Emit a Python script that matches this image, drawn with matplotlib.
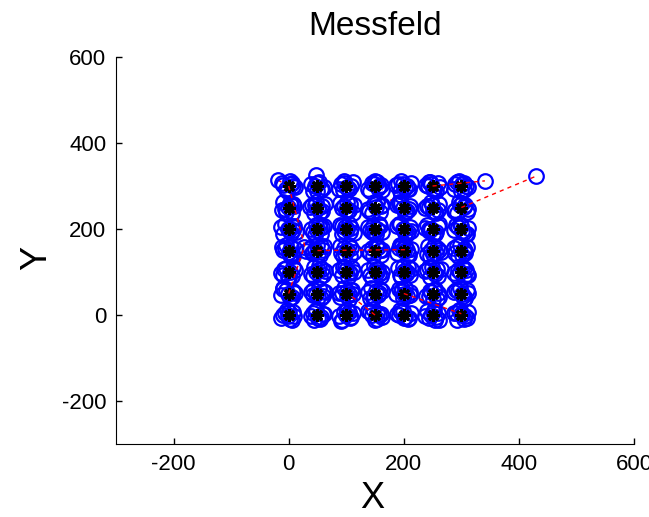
import numpy as np
import matplotlib
matplotlib.use("Agg")
import matplotlib.pyplot as plt

plt.rcParams["axes.unicode_minus"] = False

# Messfeld: true grid positions (black) and measured positions (blue circles)
grid_x = [0, 50, 100, 150, 200, 250, 300]
grid_y = [0, 50, 100, 150, 200, 250, 300]

# measurement error per grid point (row by row, y = 0 ... 300, x = 0 ... 300)
err_x = [
    [-14, -6, 3, 8, -3, 10, 5, -9, 1, -2], [-8, 5, 12, -2, 7, -11, 1, -4, 9, -6],
    [-12, -4, 6, 11, 2, -7, -1, 8, -9, 4], [-9, 4, 10, -3, 13, -12, 0, -6, 7, 3],
    [-11, -2, 7, 12, 3, -6, 9, -8, -4, 1], [-6, 9, 3, -13, 11, 0, -3, 6, -9, 4],
    [-10, 5, 12, -3, 7, -7, 1, -4, 9, -12],
    [-13, -5, 8, 2, 11, -9, 5, -2, -10, 7], [-7, 10, 3, -12, 6, 13, -3, 1, 9, -8],
    [-10, 2, 12, -4, 8, -13, 5, -7, 1, 10], [-12, -3, 9, 5, 13, -7, -1, 2, -9, 7],
    [-8, 6, 11, -2, 3, -13, 10, -5, 1, -3], [-11, 4, 12, -5, 9, 1, -6, 2, 8, -3],
    [-9, 7, -2, 12, 3, -13, 4, -6, 1, 9],
    [-14, -4, 6, 11, 1, -8, 3, -10, 8, -2], [-6, 9, 13, -11, 2, 5, -3, 1, -8, 8],
    [-12, 3, 10, -5, 7, 14, -8, 0, 5, -2], [-9, 6, -2, 12, 10, -13, 3, -6, 1, 7],
    [-10, 4, 12, -4, 8, 1, -7, 6, -1, 10], [-13, -1, 9, 5, 14, -7, 3, -5, -9, 7],
    [-8, 8, 2, -12, 11, 5, -3, 4, -6, 9],
    [-12, 6, 11, -4, 2, -9, 0, -7, 8, 4], [-7, 12, -13, 4, 9, -1, 1, -5, 7, -9],
    [-11, -2, 8, 13, 4, -6, 2, -9, 6, -3], [-13, 5, 10, -6, 1, 12, -3, 8, -9, 4],
    [-9, 7, 12, -3, -12, 3, 0, -6, 9, -1], [-10, 3, 11, -5, 8, 14, -2, 6, -8, 1],
    [-12, 6, -3, 10, 2, -8, 7, -5, 4, -11],
    [-13, 4, 10, -6, 1, 12, -2, 7, -9, 5], [-8, 11, 3, -12, 7, -2, 0, -5, 8, 4],
    [-11, -3, 9, 14, 5, -7, 1, -8, 6, -2], [-9, 7, 12, -4, 2, -13, 4, -6, 9, -1],
    [-12, 3, 10, -6, 13, 6, -1, -9, 7, 1], [-7, 9, -13, 4, 11, -2, 1, -6, 6, -9],
    [-10, 5, 12, -3, 8, -12, 2, -6, 9, -1],
    [-12, 2, 10, -5, 7, -9, -2, 5, -7, 4], [-9, 8, 13, -2, 4, -13, 1, -6, 8, -4],
    [-11, 5, -4, 11, 14, 1, -8, 3, 6, -1], [-13, -1, 8, 12, 4, 45, -5, 1, 10, -10],
    [-8, 6, 11, -5, 2, -12, 9, -2, -9, 4], [-10, 4, 12, -3, 9, -13, 1, -7, 6, -1],
    [-12, 7, -4, 11, 2, -8, 4, -11, 9, -3],
    [-19, -5, 6, 11, 2, -10, 8, -3, -12, 4], [-3, 8, -11, 12, 3, -7, 0, -5, 6, -1],
    [-9, 5, 11, -3, 2, -12, -6, 8, 1, -3], [-12, 4, 10, -5, 13, 0, 7, -8, -2, 5],
    [-10, 7, 12, -4, 2, -13, -6, 5, 9, -2], [-11, 3, 9, -4, 13, -7, 6, -8, 1, -2],
    [-12, 5, -4, 11, 2, -8, 8, -1, -11, 5],
]
err_y = [
    [-7, 4, -9, 6, 12, -3, -12, 0, 8, -2], [5, -10, 3, 11, -4, -2, -6, 9, 2, -12],
    [-3, 8, -8, 4, 12, -11, 1, -5, -13, 6], [6, -9, 2, 13, -5, 10, -11, 1, -1, 5],
    [2, 10, -10, 5, -4, 12, -6, -1, 7, -8], [-8, 4, 12, -2, -11, 7, 1, -4, 9, -12],
    [4, -9, 7, 11, -2, -12, 0, 12, -6, 4],
    [-4, 9, 5, -10, 2, 12, -8, -1, 10, 4], [8, -6, 12, 3, -11, 4, 0, -9, 5, -3],
    [-9, 6, -2, 12, 9, 1, -12, 1, -5, 7], [3, -11, 10, -4, 6, 12, -8, 6, -11, 2],
    [10, -5, 4, -10, 13, 0, -3, 6, -1, 10], [-6, 11, -8, 5, 2, -12, -5, 9, -12, 3],
    [7, -10, 12, 1, -6, 4, -12, 6, -1, 9],
    [-2, 10, -9, 4, -12, 7, 1, -6, 12, -11], [11, -8, 3, -4, 13, -11, -1, 5, -9, 7],
    [5, -11, 9, 12, -3, 0, -7, 4, -1, 12], [-7, 8, 13, -1, -10, 5, 1, -13, 6, -4],
    [9, -4, 6, -12, 12, 2, -8, 1, 11, -6], [3, 12, -9, -5, 8, 11, -1, -12, 5, 8],
    [-10, 5, 12, -2, -7, 9, 1, -12, 4, -5],
    [8, -7, 3, 12, -11, 1, -4, 6, -12, 9], [-4, 10, 6, -11, 2, 13, -8, 1, 11, -5],
    [11, -9, 5, -3, 12, -12, 1, -6, -12, 5], [-2, 9, -10, 6, 13, 2, -12, 1, -5, 9],
    [6, -8, 4, 12, -5, 10, -1, 12, -11, 4], [-9, 11, 2, -12, 7, -3, 1, -6, 10, -8],
    [5, -6, 12, 8, -11, 11, -2, -12, 3, -6],
    [4, -10, 8, 12, -3, -8, 1, -3, -12, 6], [-7, 6, 12, 1, -11, 10, -2, -13, 5, 3],
    [10, -5, 3, -9, 12, -12, -1, 7, -7, 5], [-3, 11, -8, 6, -12, 4, 1, -6, 8, -9],
    [7, -9, 5, 12, -4, -11, -1, 12, -6, 1], [-5, 8, 3, -11, 12, 1, -12, 1, -6, 9],
    [9, -7, 2, 12, -11, -2, -5, 4, -12, 7],
    [-6, 11, 4, -10, 8, 13, 1, -12, -4, 6], [5, -8, 9, 12, -11, 1, -2, -12, 4, 7],
    [10, -6, 3, -12, 6, 12, -1, -8, 9, -5], [-4, 9, -10, 5, 12, 28, -12, 1, 4, -8],
    [12, -7, 4, 10, -12, 6, -3, -1, 8, -7], [3, -11, 8, 12, -5, -2, -7, 1, -12, 5],
    [-8, 5, 12, -3, 10, -12, 1, -5, -10, 6],
    [14, -8, 6, -3, 12, 3, -1, -11, 8, 5], [26, -6, 5, -2, 10, -11, -12, 1, -6, 7],
    [4, -8, 9, 11, -3, -6, -10, 1, -5, 6], [-7, 10, 3, 7, -10, 12, 0, -12, 5, -4],
    [5, -8, 8, 11, -4, 2, -11, 1, -7, 4], [3, -9, 6, 10, -3, 9, -12, 1, -6, 4],
    [-6, 8, 11, -2, 4, 10, 1, -12, 5, -9],
]

# gross errors: true point -> measured point
out_true_x = [250, 300, 200, 0, 0, 50, 150]
out_true_y = [300, 250, 50, 300, 50, 150, 0]
out_meas_x = [341, 430, 300, 30, 27, 205, 105]
out_meas_y = [312, 323, 3, 150, 158, 152, 48]

gx, gy = np.meshgrid(grid_x, grid_y)
gx = gx.ravel()
gy = gy.ravel()
n = len(err_x[0])
true_x = np.repeat(gx, n)
true_y = np.repeat(gy, n)
meas_x = true_x + np.ravel(err_x)
meas_y = true_y + np.ravel(err_y)
all_x = np.concatenate([meas_x, out_meas_x])
all_y = np.concatenate([meas_y, out_meas_y])

fig = plt.figure(figsize=(6.49, 5.17), dpi=100)
ax = fig.add_axes([0.1787, 0.1412, 0.7982, 0.7485])

# error vectors, small ones under the circles, gross ones on top
ax.plot(np.vstack([true_x, meas_x]), np.vstack([true_y, meas_y]),
        color="red", linestyle="--", dashes=(3, 3), linewidth=1, zorder=1)
ax.plot(np.vstack([out_true_x, out_meas_x]), np.vstack([out_true_y, out_meas_y]),
        color="red", linestyle="--", dashes=(3, 3), linewidth=1, zorder=4)
ax.plot(all_x, all_y, "o", mfc="none", mec="blue", markersize=10.5, mew=1.6, zorder=2)
ax.plot(gx, gy, linestyle="none", marker=(8, 2, 0), color="black",
        markersize=9, mew=2, zorder=3)

ax.set_xlim(-300, 600)
ax.set_ylim(-300, 600)
ax.set_xticks([-200, 0, 200, 400, 600])
ax.set_yticks([-200, 0, 200, 400, 600])
ax.spines["top"].set_visible(False)
ax.spines["right"].set_visible(False)
ax.tick_params(direction="in", length=4, width=1, pad=7, labelsize=16)
for lab in ax.get_xticklabels() + ax.get_yticklabels():
    lab.set_fontfamily("Liberation Sans")

ax.set_title("Messfeld", fontsize=24, fontfamily="Liberation Sans", pad=16)
ax.set_xlabel("X", fontsize=26, fontfamily="Liberation Sans")
ax.set_ylabel("Y", fontsize=26, fontfamily="Liberation Sans")
ax.xaxis.set_label_coords(0.495, -0.095)
ax.yaxis.set_label_coords(-0.12, 0.48)

fig.savefig("out.png", dpi=100)
